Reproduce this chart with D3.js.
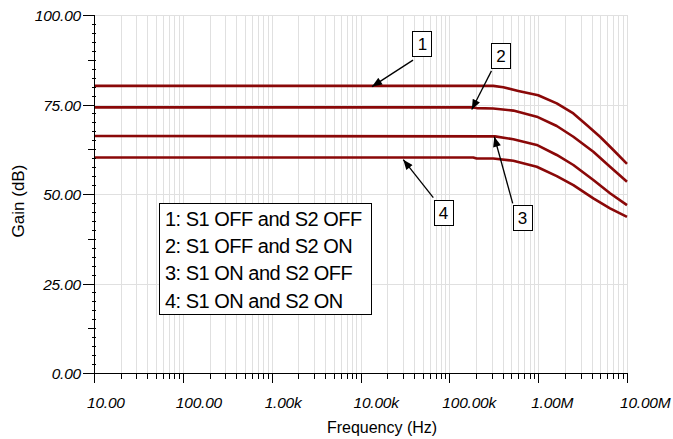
<!DOCTYPE html>
<html>
<head>
<meta charset="utf-8">
<script src="https://cdn.jsdelivr.net/npm/d3@7"></script>
<style>
  html, body { margin: 0; padding: 0; background: #fff; }
  svg { display: block; font-family: "Liberation Sans", Arial, sans-serif; }
</style>
</head>
<body>
<svg id="chart" width="673" height="439"></svg>
<script>
// ---- Data ----
const freqTicks = [10, 100, 1e3, 1e4, 1e5, 1e6, 1e7];
const freqTickLabels = ["10.00", "100.00", "1.00k", "10.00k", "100.00k", "1.00M", "10.00M"];
const gainTicks = [0, 25, 50, 75, 100];
const gainTickLabels = ["0.00", "25.00", "50.00", "75.00", "100.00"];

const freq1 = [10, 312e3, 405e3, 598e3, 1.0e6, 1.62e6, 2.49e6, 3.52e6, 4.97e6, 7.02e6, 1e7];
const gain1 = [80.2, 80.2, 79.8, 78.8, 77.6, 75.3, 72.5, 69.3, 66.0, 62.3, 58.4];

const freq2 = [10, 179e3, 203e3, 312e3, 525e3, 964e3, 1.62e6, 2.49e6, 4.18e6, 6.44e6, 1e7];
const gain2 = [74.2, 74.2, 74.0, 73.9, 73.3, 71.6, 69.0, 66.0, 61.8, 57.6, 53.4];

const freq3 = [10, 327e3, 525e3, 964e3, 1.62e6, 2.49e6, 4.18e6, 6.44e6, 1e7];
const gain3 = [66.2, 66.1, 65.3, 63.7, 60.9, 58.1, 53.9, 50.2, 46.9];

const freq4 = [10, 186e3, 203e3, 312e3, 525e3, 964e3, 1.62e6, 2.49e6, 4.18e6, 6.44e6, 1e7];
const gain4 = [60.2, 60.2, 59.9, 59.9, 59.3, 57.6, 55.0, 52.5, 48.8, 46.0, 43.6];

const seriesFreqs = [freq1, freq2, freq3, freq4];
const seriesGains = [gain1, gain2, gain3, gain4];

const legendLabels = ["1: S1 OFF and S2 OFF", "2: S1 OFF and S2 ON", "3: S1 ON and S2 OFF", "4: S1 ON and S2 ON"];

// annotation callouts (in data coordinates)
const calloutText = ["1", "2", "3", "4"];
const calloutBoxF = [49.2e3, 377e3, 658e3, 84.9e3];
const calloutBoxG = [91.9, 88.7, 43.3, 44.8];
const calloutFromF = [39e3, 298e3, 517e3, 66e3];
const calloutFromG = [87.4, 84.4, 47.4, 49.0];
const calloutTipF = [13.5e3, 179e3, 321e3, 30.3e3];
const calloutTipG = [80.0, 73.6, 66.0, 59.6];

// ---- Layout ----
const svg = d3.select("#chart");
const pL = 94, pR = 627, pT = 15, pB = 373;
const x = d3.scaleLog().domain([10, 1e7]).range([pL, pR]);
const y = d3.scaleLinear().domain([0, 100]).range([pB, pT]);

// minor x positions
const xMinor = [];
for (let d = 10; d < 1e7; d *= 10) for (let k = 2; k <= 9; k++) xMinor.push(d * k);

// grid
const grid = svg.append("g").attr("stroke", "#e0e0e0").attr("stroke-width", 1);
grid.selectAll("line.v").data(xMinor.concat(freqTicks.slice(1))).join("line")
  .attr("x1", d => Math.round(x(d)) + 0.5).attr("x2", d => Math.round(x(d)) + 0.5)
  .attr("y1", pT).attr("y2", pB);
grid.selectAll("line.h").data(gainTicks.slice(1)).join("line")
  .attr("x1", pL).attr("x2", pR)
  .attr("y1", d => Math.round(y(d)) + 0.5).attr("y2", d => Math.round(y(d)) + 0.5);

// curves
const line = d3.line().x(d => x(d[0])).y(d => y(d[1]));
seriesFreqs.forEach((fs, i) => {
  const pts = fs.map((f, j) => [f, seriesGains[i][j]]);
  svg.append("path").datum(pts).attr("d", line)
    .attr("fill", "none").attr("stroke", "#8a0808").attr("stroke-width", 2.6)
    .attr("stroke-linejoin", "round");
});

// axes
const axes = svg.append("g").attr("stroke", "#000").attr("stroke-width", 1);
axes.append("line").attr("x1", pL + 0.5).attr("x2", pL + 0.5).attr("y1", pT).attr("y2", pB + 0.5);
axes.append("line").attr("x1", pL).attr("x2", pR + 0.5).attr("y1", pB + 0.5).attr("y2", pB + 0.5);

// y ticks
gainTicks.forEach(g => {
  axes.append("line").attr("x1", pL - 11).attr("x2", pL)
    .attr("y1", Math.round(y(g)) + 0.5).attr("y2", Math.round(y(g)) + 0.5);
});
for (let g = 2.5; g < 100; g += 2.5) {
  if (g % 25 === 0) continue;
  const med = (g % 12.5 === 0);
  axes.append("line").attr("x1", pL - (med ? 6 : 2)).attr("x2", pL + 2)
    .attr("y1", Math.round(y(g)) + 0.5).attr("y2", Math.round(y(g)) + 0.5);
}
// x ticks
freqTicks.forEach(f => {
  axes.append("line").attr("x1", Math.round(x(f)) + 0.5).attr("x2", Math.round(x(f)) + 0.5)
    .attr("y1", pB).attr("y2", pB + 10);
});
xMinor.forEach(f => {
  axes.append("line").attr("x1", Math.round(x(f)) + 0.5).attr("x2", Math.round(x(f)) + 0.5)
    .attr("y1", pB).attr("y2", pB + 6);
});

// tick labels
svg.selectAll("text.yl").data(gainTicks).join("text")
  .attr("x", pL - 13).attr("y", d => y(d) + 6)
  .attr("text-anchor", "end").attr("font-size", 15.5).attr("font-style", "italic")
  .attr("letter-spacing", -0.2)
  .text((d, i) => gainTickLabels[i]);
svg.selectAll("text.xl").data(freqTicks).join("text")
  .attr("x", d => x(d) - 7).attr("y", pB + 35)
  .attr("text-anchor", "start").attr("font-size", 15.5).attr("font-style", "italic")
  .attr("letter-spacing", -0.2)
  .text((d, i) => freqTickLabels[i]);

// axis titles
svg.append("text").attr("x", 382).attr("y", 433)
  .attr("text-anchor", "middle").attr("font-size", 16).text("Frequency (Hz)");
svg.append("text").attr("transform", `translate(24,${(pT + pB) / 2 + 7}) rotate(-90)`)
  .attr("text-anchor", "middle").attr("font-size", 17).text("Gain (dB)");

// legend box
const lg = svg.append("g");
lg.append("rect").attr("x", 159.5).attr("y", 203.5).attr("width", 212).attr("height", 111)
  .attr("fill", "#fff").attr("stroke", "#000").attr("stroke-width", 1);
lg.selectAll("text").data(legendLabels).join("text")
  .attr("x", 165).attr("y", (d, i) => 225.5 + i * 27.4)
  .attr("font-size", 20).attr("letter-spacing", -0.5)
  .text(d => d);

// arrow marker
svg.append("defs").append("marker").attr("id", "ah")
  .attr("viewBox", "0 0 10 8").attr("refX", 10).attr("refY", 4)
  .attr("markerWidth", 11).attr("markerHeight", 8).attr("markerUnits", "userSpaceOnUse")
  .attr("orient", "auto")
  .append("path").attr("d", "M0,0 L10,4 L0,8 Z").attr("fill", "#000");

// callouts
calloutText.forEach((t, i) => {
  svg.append("line")
    .attr("x1", x(calloutFromF[i])).attr("y1", y(calloutFromG[i]))
    .attr("x2", x(calloutTipF[i])).attr("y2", y(calloutTipG[i]))
    .attr("stroke", "#000").attr("stroke-width", 1.3).attr("marker-end", "url(#ah)");
  const cx = x(calloutBoxF[i]), cy = y(calloutBoxG[i]);
  svg.append("rect").attr("x", Math.round(cx - 9.5) + 0.5).attr("y", Math.round(cy - 12.5) + 0.5)
    .attr("width", 19).attr("height", 25).attr("fill", "#fff").attr("stroke", "#000");
  svg.append("text").attr("x", cx + 0.5).attr("y", cy + 6.5).attr("text-anchor", "middle")
    .attr("font-size", 17).text(t);
});
</script>
</body>
</html>
